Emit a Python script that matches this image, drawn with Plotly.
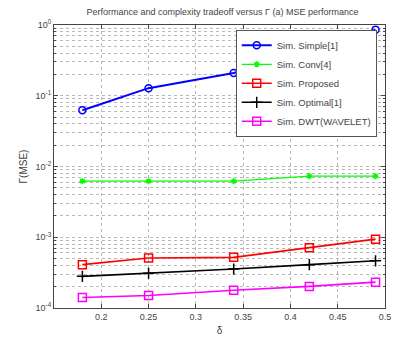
import plotly.graph_objects as go

delta = [0.18, 0.25, 0.34, 0.42, 0.49]
simple = [0.0625, 0.128, 0.21, 0.42, 0.86]
conv = [0.0062, 0.0062, 0.0062, 0.0073, 0.0073]
proposed = [0.00041, 0.00051, 0.00052, 0.00071, 0.00094]
optimal = [0.00028, 0.00031, 0.000355, 0.00041, 0.000465]
dwt = [0.000141, 0.00015, 0.000178, 0.000202, 0.000232]

names = ["Sim. Simple[1]", "Sim. Conv[4]", "Sim. Proposed", "Sim. Optimal[1]", "Sim. DWT(WAVELET)"]
series = [simple, conv, proposed, optimal, dwt]
colors = ["#0000ff", "#00ff00", "#ff0000", "#000000", "#ff00ff"]
symbols = ["circle-open", "asterisk-open", "square-open", "cross-thin-open", "square-open"]
sizes = [7, 5, 8, 8, 8]
widths = [2, 1.3, 1.6, 1.6, 1.6]

ytickvals = [1e-4, 1e-3, 1e-2, 1e-1, 1]
yticktext = ["10<sup>-4</sup>", "10<sup>-3</sup>", "10<sup>-2</sup>", "10<sup>-1</sup>", "10<sup>0</sup>"]
xtickvals = [0.2, 0.25, 0.3, 0.35, 0.4, 0.45, 0.5]

fig = go.Figure()
for n, s, c, sym, sz, w in zip(names, series, colors, symbols, sizes, widths):
    fig.add_trace(go.Scatter(
        x=delta, y=s, name=n, mode="lines+markers",
        line=dict(color=c, width=w),
        marker=dict(symbol=sym, size=sz, color=c, line=dict(color=c, width=1.5)),
    ))

gridc = "#b8b8b8"
fig.update_layout(
    width=400, height=344,
    margin=dict(l=54, r=9, t=25, b=31),
    paper_bgcolor="white", plot_bgcolor="white",
    font=dict(family="Arial, Liberation Sans, sans-serif", size=9, color="#444"),
    title=dict(text="Performance and complexity tradeoff versus Γ (a) MSE performance",
               x=(54 + 391) / 2 / 400, xanchor="center", y=1 - 12 / 344, yanchor="middle",
               font=dict(size=9, color="#444")),
    showlegend=True,
    legend=dict(x=0.549, y=0.983, xanchor="left", yanchor="top",
                bgcolor="white", bordercolor="#555", borderwidth=1,
                font=dict(size=9.5, color="#444"), tracegroupgap=0,
                itemwidth=30),
    xaxis=dict(range=[0.15, 0.5], tickvals=xtickvals, ticktext=[str(v) for v in xtickvals],
               showgrid=True, gridcolor=gridc, griddash="dot", gridwidth=1,
               showline=True, linecolor="#444", linewidth=1, mirror="ticks",
               ticks="inside", ticklen=4, tickcolor="#444", zeroline=False,
               title=dict(text="δ", font=dict(size=10, color="#444"), standoff=6)),
    yaxis=dict(type="log", range=[-4, 0], tickvals=ytickvals, ticktext=yticktext,
               showgrid=True, gridcolor=gridc, griddash="dot", gridwidth=1,
               minor=dict(showgrid=True, gridcolor=gridc, griddash="dot", gridwidth=1,
                          ticks="inside", ticklen=2, tickcolor="#444",
                          tickvals=[m * 10 ** e for e in range(-4, 0) for m in range(2, 10)]),
               showline=True, linecolor="#444", linewidth=1, mirror="ticks",
               ticks="inside", ticklen=4, tickcolor="#444", zeroline=False,
               title=dict(text="Γ(MSE)", font=dict(size=10, color="#444"), standoff=6)),
)

fig.write_html("out.html")
